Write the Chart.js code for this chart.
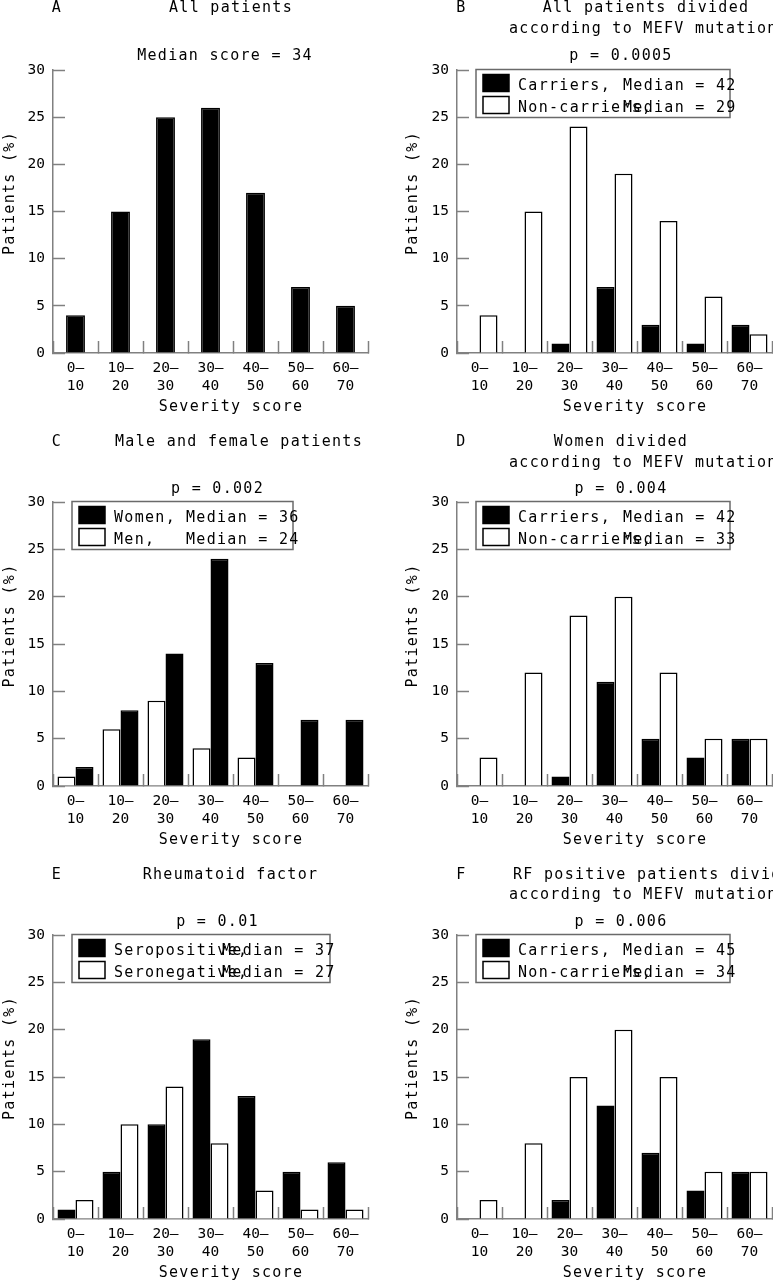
<!DOCTYPE html>
<html>
<head>
<meta charset="utf-8">
<script src="https://cdn.jsdelivr.net/npm/chart.js@4.4.0/dist/chart.umd.min.js"></script>
<style>
  body { margin: 0; background: #fff; }
  #page { position: relative; width: 773px; height: 1280px; overflow: hidden; }
  canvas { position: absolute; }
</style>
</head>
<body>
<div id="page">
  <canvas id="pA"></canvas>
  <canvas id="pB"></canvas>
  <canvas id="pC"></canvas>
  <canvas id="pD"></canvas>
  <canvas id="pE"></canvas>
  <canvas id="pF"></canvas>
</div>
<script>
// severity score bins (two-line tick labels)
const bins = [['0—', '10'], ['10—', '20'], ['20—', '30'], ['30—', '40'], ['40—', '50'], ['50—', '60'], ['60—', '70']];

// patients (%) per bin
const allPatients      = [4, 15, 25, 26, 17, 7, 5];
const carriersAll      = [0, 0, 1, 7, 3, 1, 3];
const nonCarriersAll   = [4, 15, 24, 19, 14, 6, 2];
const women            = [2, 8, 14, 24, 13, 7, 7];
const men              = [1, 6, 9, 4, 3, 0, 0];
const carriersWomen    = [0, 0, 1, 11, 5, 3, 5];
const nonCarriersWomen = [3, 12, 18, 20, 12, 5, 5];
const seropositive     = [1, 5, 10, 19, 13, 5, 6];
const seronegative     = [2, 10, 14, 8, 3, 1, 1];
const carriersRF       = [0, 0, 2, 12, 7, 3, 5];
const nonCarriersRF    = [2, 8, 15, 20, 15, 5, 5];

const AXIS = '#808080';
const MONO = '"DejaVu Sans Mono", monospace';
const BLACK = { backgroundColor: '#000', borderColor: '#000' };
const WHITE = { backgroundColor: '#fff', borderColor: '#000' };

// one entry per panel; x/y of texts are relative to the panel canvas.
// right-hand canvases run past the page edge so the plot can reach it (page clips them)
const panels = [
  { id: 'pA', left: 0, top: 0, w: 386, h: 428, yW: 53, padTop: 70, padRight: 18, xH: 75, cat: 0.42,
    letter: 'A', letterX: 57, y1: 12, y2: 33, pY: 60,
    titles: [{ text: 'All patients', x: 231 }],
    sub: { text: 'Median score = 34', x: 225 },
    sevX: 231, sevY: 411, patX: 13.5, patY: 193,
    sets: [{ data: allPatients, ...BLACK }] },
  { id: 'pB', left: 386, top: 0, w: 400, h: 428, yW: 71, padTop: 70, padRight: 14, xH: 75, cat: 0.8,
    letter: 'B', letterX: 75.5, y1: 12, y2: 33, pY: 60,
    titles: [{ text: 'All patients divided', x: 260 }, { text: 'according to MEFV mutation', x: 123, line: 2 }],
    sub: { text: 'p = 0.0005', x: 235 },
    sevX: 249, sevY: 411, patX: 30.5, patY: 193,
    legend: { w: 254, dx: 105, rows: [['#000', 'Carriers,', 'Median = 42'], ['#fff', 'Non-carriers,', 'Median = 29']] },
    sets: [{ data: carriersAll, ...BLACK }, { data: nonCarriersAll, ...WHITE }] },
  { id: 'pC', left: 0, top: 428, w: 386, h: 430, yW: 53, padTop: 74, padRight: 18, xH: 72, cat: 0.8,
    letter: 'C', letterX: 57, y1: 18, y2: 39, pY: 65,
    titles: [{ text: 'Male and female patients', x: 239 }],
    sub: { text: 'p = 0.002', x: 217.5 },
    sevX: 231, sevY: 416, patX: 13.5, patY: 197.5,
    legend: { w: 221, dx: 72, rows: [['#000', 'Women,', 'Median = 36'], ['#fff', 'Men,', 'Median = 24']] },
    sets: [{ data: men, ...WHITE }, { data: women, ...BLACK }] },
  { id: 'pD', left: 386, top: 428, w: 400, h: 430, yW: 71, padTop: 74, padRight: 14, xH: 72, cat: 0.8,
    letter: 'D', letterX: 75.5, y1: 18, y2: 39, pY: 65,
    titles: [{ text: 'Women divided', x: 235 }, { text: 'according to MEFV mutation', x: 123, line: 2 }],
    sub: { text: 'p = 0.004', x: 235 },
    sevX: 249, sevY: 416, patX: 30.5, patY: 197.5,
    legend: { w: 254, dx: 105, rows: [['#000', 'Carriers,', 'Median = 42'], ['#fff', 'Non-carriers,', 'Median = 33']] },
    sets: [{ data: carriersWomen, ...BLACK }, { data: nonCarriersWomen, ...WHITE }] },
  { id: 'pE', left: 0, top: 858, w: 386, h: 422, yW: 53, padTop: 77, padRight: 18, xH: 61, cat: 0.8,
    letter: 'E', letterX: 57, y1: 21, y2: 41, pY: 68,
    titles: [{ text: 'Rheumatoid factor', x: 230.5 }],
    sub: { text: 'p = 0.01', x: 217.5 },
    sevX: 231, sevY: 419, patX: 13.5, patY: 200,
    legend: { w: 258, dx: 108, rows: [['#000', 'Seropositive,', 'Median = 37'], ['#fff', 'Seronegative,', 'Median = 27']] },
    sets: [{ data: seropositive, ...BLACK }, { data: seronegative, ...WHITE }] },
  { id: 'pF', left: 386, top: 858, w: 400, h: 422, yW: 71, padTop: 77, padRight: 14, xH: 61, cat: 0.8,
    letter: 'F', letterX: 75.5, y1: 21, y2: 41, pY: 68,
    titles: [{ text: 'RF positive patients divided', x: 127, line: 1, align: 'left' }, { text: 'according to MEFV mutation', x: 123, line: 2 }],
    sub: { text: 'p = 0.006', x: 235 },
    sevX: 249, sevY: 419, patX: 30.5, patY: 200,
    legend: { w: 254, dx: 105, rows: [['#000', 'Carriers,', 'Median = 45'], ['#fff', 'Non-carriers,', 'Median = 34']] },
    sets: [{ data: carriersRF, ...BLACK }, { data: nonCarriersRF, ...WHITE }] }
];

// titles, axis titles and the legend, drawn on top of the chart
function textPlugin(p) {
  return {
    id: 'panelText',
    afterDraw(chart) {
      const ctx = chart.ctx, ca = chart.chartArea;
      ctx.save();
      ctx.fillStyle = '#000';
      ctx.font = '15px ' + MONO;
      ctx.letterSpacing = '1.3px';
      ctx.textBaseline = 'alphabetic';

      ctx.textAlign = 'center';
      ctx.fillText(p.letter, p.letterX, p.y1);
      p.titles.forEach(t => {
        ctx.textAlign = t.align || (t.line === 2 ? 'left' : 'center');
        ctx.fillText(t.text, t.x, t.line === 2 ? p.y2 : p.y1);
      });
      ctx.textAlign = 'center';
      ctx.fillText(p.sub.text, p.sub.x, p.pY);
      ctx.fillText('Severity score', p.sevX, p.sevY);

      ctx.save();
      ctx.translate(p.patX, p.patY);
      ctx.rotate(-Math.PI / 2);
      ctx.fillText('Patients (%)', 0, 0);
      ctx.restore();

      if (p.legend) {
        const bx = ca.left + 19, by = ca.top - 0.5;
        ctx.fillStyle = '#fff';
        ctx.fillRect(bx, by, p.legend.w, 48);
        ctx.strokeStyle = '#6a6a6a';
        ctx.lineWidth = 1.5;
        ctx.strokeRect(bx, by, p.legend.w, 48);
        ctx.textAlign = 'left';
        p.legend.rows.forEach((r, i) => {
          const sy = by + 5 + i * 22;
          ctx.fillStyle = r[0];
          ctx.fillRect(bx + 7, sy, 26, 17);
          ctx.strokeStyle = '#000';
          ctx.strokeRect(bx + 7, sy, 26, 17);
          ctx.fillStyle = '#000';
          ctx.fillText(r[1], bx + 42, by + 20 + i * 22);
          ctx.fillText(r[2], bx + 42 + p.legend.dx, by + 20 + i * 22);
        });
      }
      ctx.restore();
    }
  };
}

const gridOpts = { drawOnChartArea: false, drawTicks: true, tickLength: -12, tickColor: AXIS, tickWidth: 1.5 };

panels.forEach(p => {
  const canvas = document.getElementById(p.id);
  canvas.width = p.w;
  canvas.height = p.h;
  canvas.style.left = p.left + 'px';
  canvas.style.top = p.top + 'px';

  new Chart(canvas, {
    type: 'bar',
    data: {
      labels: bins,
      datasets: p.sets.map(s => ({
        data: s.data,
        backgroundColor: s.backgroundColor,
        borderColor: s.borderColor,
        borderWidth: 1.5,
        categoryPercentage: p.cat,
        barPercentage: 1
      }))
    },
    options: {
      responsive: false,
      animation: false,
      devicePixelRatio: 1,
      layout: { padding: { top: p.padTop, right: p.padRight, left: 0, bottom: 0 } },
      plugins: { legend: { display: false }, tooltip: { enabled: false }, title: { display: false } },
      scales: {
        x: {
          offset: true,
          grid: { ...gridOpts, offset: true },
          border: { color: AXIS, width: 1.5 },
          ticks: { font: { family: MONO, size: 14.5, lineHeight: 1.2 }, color: '#000', padding: 19, maxRotation: 0, autoSkip: false },
          afterFit: s => { s.height = p.xH; }
        },
        y: {
          min: 0,
          max: 30,
          grid: gridOpts,
          border: { color: AXIS, width: 1.5 },
          ticks: { stepSize: 5, font: { family: MONO, size: 14.5 }, color: '#000', padding: 20 },
          afterFit: s => { s.width = p.yW; }
        }
      }
    },
    plugins: [textPlugin(p)]
  });
});
</script>
</body>
</html>
